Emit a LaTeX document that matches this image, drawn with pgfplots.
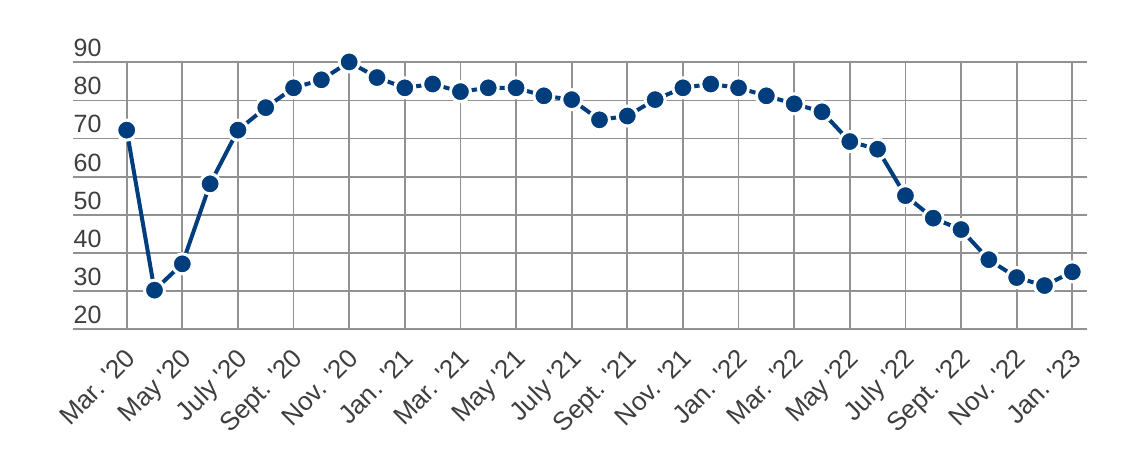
\documentclass[border=0pt]{standalone}
\usepackage{pgfplots}
\pgfplotsset{compat=1.18}
\usepackage{fontspec}
\setmainfont{Liberation Sans}
% no TeX ligatures here, so ' stays a straight apostrophe
\newfontfamily\lsans{Liberation Sans}
\definecolor{lineblue}{RGB}{0,61,124}
\definecolor{txt}{RGB}{62,62,62}
\definecolor{gridc}{RGB}{145,145,145}
\begin{document}
\begin{tikzpicture}
\useasboundingbox (0,0) rectangle (1146pt,456pt);
\begin{axis}[
    at={(73pt,127pt)}, anchor=south west,
    scale only axis,
    width=1014pt, height=266.7pt,
    xmin=-1.93, xmax=34.53,
    ymin=20, ymax=90,
    ytick={20,30,...,90},
    xtick={0,2,...,34},
    xticklabels={Mar. '20, May '20, July '20, Sept. '20, Nov. '20, Jan. '21, Mar. '21, May '21, July '21, Sept. '21, Nov. '21, Jan. '22, Mar. '22, May '22, July '22, Sept. '22, Nov. '22, Jan. '23},
    grid=major,
    major grid style={draw=gridc, line width=1.8pt},
    axis line style={draw=none},
    major tick length=0pt,
    clip=false,
    /pgf/number format/assume math mode=true,
    yticklabel style={font=\lsans\fontsize{25}{30}\selectfont, text=txt, anchor=base west, inner sep=0pt, xshift=0.5pt, yshift=5.6pt},
    xticklabel style={font=\lsans\fontsize{26}{30}\selectfont, text=txt, xshift=-2.6pt, yshift=-17.9pt, rotate=45, anchor=north east, inner sep=0pt},
]
\addplot[lineblue, line width=4pt, mark=*, mark size=10pt,
    mark options={fill=lineblue, draw=white, line width=3pt}]
  coordinates {
  (0,72.2) (1,30.2) (2,37.1) (3,58.1) (4,72.2) (5,78.1) (6,83.3) (7,85.4)
  (8,90.1) (9,86.0) (10,83.3) (11,84.3) (12,82.3) (13,83.3) (14,83.3) (15,81.2)
  (16,80.2) (17,74.9) (18,75.9) (19,80.2) (20,83.3) (21,84.3) (22,83.3) (23,81.2)
  (24,79.1) (25,77.0) (26,69.2) (27,67.2) (28,55.0) (29,49.1) (30,46.1) (31,38.2)
  (32,33.5) (33,31.4) (34,35.0)
  };
\end{axis}
\end{tikzpicture}
\end{document}
